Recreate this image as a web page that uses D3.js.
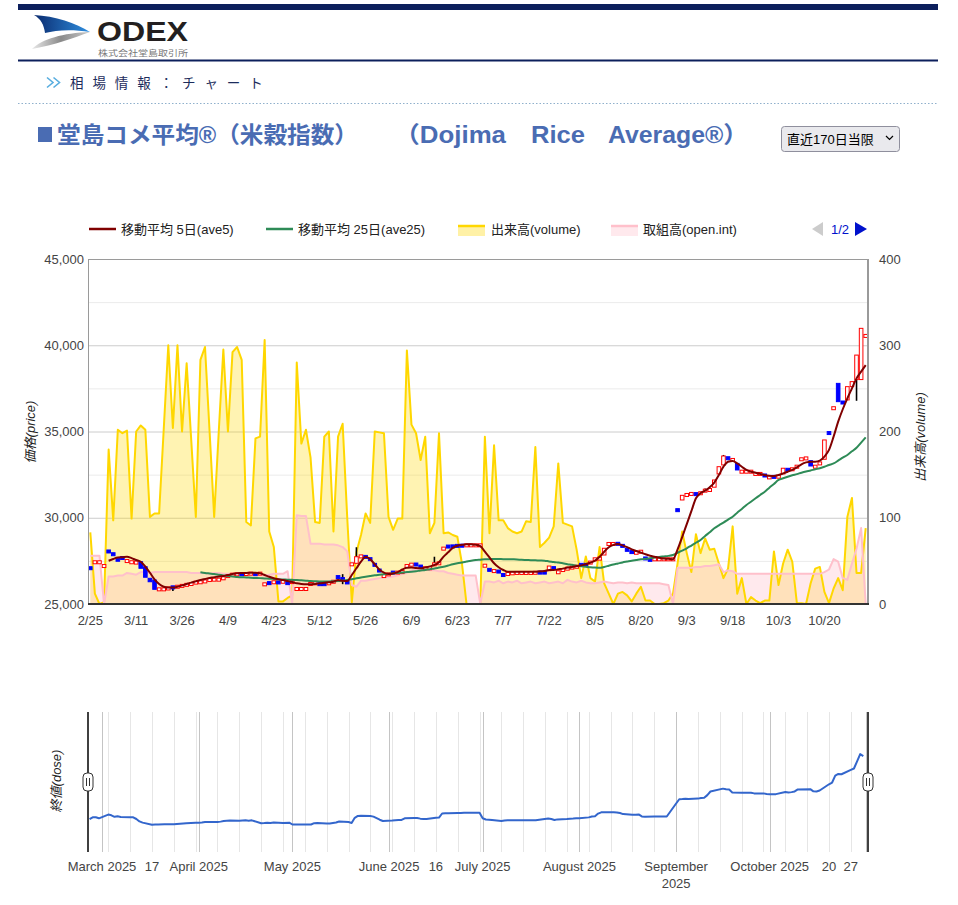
<!DOCTYPE html>
<html><head><meta charset="utf-8">
<script src="https://cdn.jsdelivr.net/npm/d3@7"></script>
<style>
body{margin:0;background:#fff}
svg{display:block}
text{font-family:"Liberation Sans",Arial,"Noto Sans CJK JP",sans-serif}
</style>
</head><body>
<svg id="c" width="958" height="905"></svg>
<script>
// ---------- DATA ----------
const dates = ("2/25 2/26 2/27 2/28 " +
 "3/3 3/4 3/5 3/6 3/7 3/10 3/11 3/12 3/13 3/14 3/17 3/18 3/19 3/21 3/24 3/25 3/26 3/27 3/28 3/31 " +
 "4/1 4/2 4/3 4/4 4/7 4/8 4/9 4/10 4/11 4/14 4/15 4/16 4/17 4/18 4/21 4/22 4/23 4/24 4/25 4/28 4/30 " +
 "5/1 5/2 5/7 5/8 5/9 5/12 5/13 5/14 5/15 5/16 5/19 5/20 5/21 5/22 5/23 5/26 5/27 5/28 5/29 5/30 " +
 "6/2 6/3 6/4 6/5 6/6 6/9 6/10 6/11 6/12 6/13 6/16 6/17 6/18 6/19 6/20 6/23 6/24 6/25 6/26 6/27 6/30 " +
 "7/1 7/2 7/3 7/4 7/7 7/8 7/9 7/10 7/11 7/14 7/15 7/16 7/17 7/18 7/22 7/23 7/24 7/25 7/28 7/29 7/30 7/31 " +
 "8/1 8/4 8/5 8/6 8/7 8/8 8/12 8/13 8/14 8/15 8/18 8/19 8/20 8/21 8/22 8/25 8/26 8/27 8/28 8/29 " +
 "9/1 9/2 9/3 9/4 9/5 9/8 9/9 9/10 9/11 9/12 9/16 9/17 9/18 9/19 9/22 9/24 9/25 9/26 9/29 9/30 " +
 "10/1 10/2 10/3 10/6 10/7 10/8 10/9 10/10 10/14 10/15 10/16 10/17 10/20 10/21 10/22 10/23 10/24 10/27 10/28 10/29 10/30 10/31").split(" ");

const xTickLabels = ["2/25","3/11","3/26","4/9","4/23","5/12","5/26","6/9","6/23","7/7","7/22","8/5","8/20","9/3","9/18","10/3","10/20"];
const priceTicks = [25000,30000,35000,40000,45000];
const volTicks = [0,100,200,300,400];

const openP = [27100,27400,27400,27180,28070,27910,27590,27690,27470,27400,
 27380,27450,27160,26490,26390,25830,25830,25880,25990,25980,
 26030,26090,26140,26220,26240,26290,26370,26390,26390,26470,
 26600,26680,26700,26750,26720,26740,26750,26740,26120,26230,
 26240,26270,26270,26230,26250,25850,25850,25850,26140,26180,
 26170,26170,26180,26270,26580,26470,26270,27280,27360,27740,
 27750,27620,27290,26960,26600,26700,26840,26800,26830,27180,
 27260,27310,27190,27050,27050,27280,27340,28170,28350,28360,
 28390,28400,28380,28380,28380,28380,27200,27000,26890,26900,
 26700,26720,26760,26780,26780,26780,26780,26790,26840,26840,
 26930,27100,26820,26950,27030,27090,27140,27290,27290,27380,
 27570,27610,27840,28460,28460,28510,28390,28160,28030,27950,
 28010,27660,27580,27570,27570,27570,27570,27570,30480,31030,
 31300,31360,31390,31400,31550,31590,31770,32540,33060,33470,
 33330,33150,32650,32650,32650,32520,32520,32470,32320,32390,
 32360,32540,32800,32790,32940,33370,33420,33310,32940,33130,
 33390,34930,36330,37790,36700,36830,37600,38010,38010,40520];

const closeP = [27050,27440,27440,27220,28020,27860,27540,27640,27510,27440,
 27420,27070,26550,26290,25850,25870,25870,25920,25940,26020,
 26070,26130,26180,26260,26280,26330,26410,26430,26430,26510,
 26640,26720,26740,26710,26760,26780,26710,26780,26160,26190,
 26280,26230,26310,26190,26290,25890,25890,25890,26180,26220,
 26130,26130,26220,26310,26540,26420,26230,27320,27740,27780,
 27710,27580,27250,26920,26640,26740,26800,26840,26870,27220,
 27300,27270,27150,27090,27090,27320,27380,28250,28310,28320,
 28350,28360,28420,28420,28420,28420,27240,26960,26930,26860,
 26660,26760,26800,26820,26820,26820,26820,26830,26800,26800,
 27200,27060,26860,26990,27070,27130,27180,27250,27250,27420,
 27610,27650,28230,28500,28500,28470,28350,28120,27990,27990,
 28050,27620,27540,27610,27610,27610,27610,27610,30400,31300,
 31340,31400,31350,31440,31590,31630,32190,32960,33580,33430,
 33370,32770,32690,32690,32690,32560,32560,32430,32360,32350,
 32400,32870,32760,32830,32980,33410,33460,33000,32980,33170,
 34510,34890,36370,36730,36660,37600,37890,39430,40980,40560];

// [index, low, high] where the wick shows outside the body
const wicks = [[18,25760,25990],[38,26050,26160],[55,26150,26730],[58,27360,28290],
 [75,27280,27740],[134,31550,31700],[138,33060,33640],[167,36780,39430]];

const ave5 = [null,null,null,null,27510,27610,27690,27710,27740,27660,
 27550,27450,27160,26810,26430,26160,26000,25950,25950,26000,
 26080,26160,26240,26310,26390,26450,26510,26550,26600,26620,
 26680,26740,26780,26800,26800,26810,26810,26780,26680,26580,
 26490,26430,26390,26330,26270,26200,26160,26140,26140,26160,
 26200,26230,26260,26290,26390,26350,26330,26680,27070,27450,
 27740,27600,27300,27000,26820,26740,26770,26850,27000,27100,
 27110,27080,27070,27120,27180,27260,27420,27750,28000,28250,
 28380,28430,28460,28460,28440,28360,28030,27700,27360,27130,
 26970,26870,26870,26870,26870,26870,26870,26870,26900,26910,
 26970,26970,27010,27050,27110,27150,27200,27240,27300,27400,
 27510,27740,28030,28290,28430,28480,28400,28300,28170,28070,
 27980,27880,27800,27740,27680,27640,27620,27600,28170,28880,
 29630,30380,31130,31420,31570,31770,32040,32480,32960,33250,
 33290,33150,32960,32770,32670,32610,32540,32480,32440,32420,
 32480,32570,32670,32770,32920,33100,33210,33250,33250,33310,
 33540,33930,34700,35570,36290,36920,37500,38080,38470,38850];

const ave25 = [null,null,null,null,null,null,null,null,null,null,
 null,null,null,null,null,null,null,null,null,null,
 null,null,null,null,26840,26800,26770,26740,26700,26660,
 26620,26600,26570,26550,26540,26520,26510,26500,26480,26470,
 26450,26430,26420,26410,26400,26390,26370,26350,26330,26320,
 26310,26310,26310,26320,26330,26360,26390,26430,26490,26540,
 26580,26620,26660,26690,26720,26750,26780,26800,26830,26850,
 26870,26900,26940,26970,27020,27060,27110,27160,27230,27300,
 27360,27410,27460,27510,27550,27570,27590,27600,27610,27610,
 27600,27600,27590,27580,27560,27550,27540,27530,27520,27510,
 27470,27440,27400,27360,27310,27270,27220,27190,27160,27130,
 27110,27100,27150,27220,27290,27350,27410,27460,27510,27550,
 27590,27620,27650,27690,27730,27760,27790,27840,27970,28100,
 28230,28390,28550,28710,28940,29160,29390,29560,29720,29890,
 30060,30290,30510,30740,30930,31130,31320,31510,31740,31960,
 32190,32290,32380,32460,32530,32610,32680,32740,32810,32870,
 32960,33060,33150,33310,33480,33640,33850,34060,34360,34660];

const volume = [83,12,0,2,179,97,202,198,201,99,
 200,207,202,101,105,105,202,300,204,300,
 200,279,190,101,283,298,200,101,200,295,
 200,292,298,283,95,91,192,194,306,84,
 66,3,3,7,10,280,186,202,170,95,
 94,194,200,84,194,209,100,2,60,80,
 105,94,200,199,198,101,86,99,99,294,
 208,198,167,194,82,94,198,82,83,80,
 78,47,0,0,0,0,194,82,184,97,
 97,88,84,82,84,96,95,182,66,71,
 77,90,163,94,92,90,63,30,55,30,
 26,66,24,12,0,12,14,10,3,12,
 20,4,4,0,0,1,4,12,47,84,
 59,37,81,59,76,63,64,47,30,41,
 90,12,30,0,8,4,1,4,4,61,
 22,47,63,49,1,1,0,24,41,43,
 14,1,18,30,16,101,123,36,36,88];

const openInt = [56,56,56,0,32,32,33,33,36,35,
 34,37,37,36,37,37,37,37,37,37,
 37,37,36,36,36,36,35,36,36,35,
 35,35,35,35,35,34,34,34,33,34,
 35,35,35,38,0,103,102,102,70,70,
 70,69,69,69,68,66,61,22,20,27,
 27,28,29,30,31,31,32,33,35,36,
 39,41,41,40,39,39,38,38,36,35,
 34,33,33,33,33,0,26,26,25,27,
 24,26,25,27,24,25,26,24,25,26,
 24,25,26,24,28,26,25,27,25,24,
 24,25,26,25,24,25,25,24,25,24,
 24,24,24,24,24,23,22,0,42,42,
 42,42,43,43,44,44,45,46,37,39,
 38,35,35,35,35,35,35,35,35,35,
 35,35,35,35,35,35,35,35,35,35,
 37,40,52,49,30,28,47,64,88,0];

const navTicks = [["2025-03-01",["March 2025"]],["2025-03-17",["17"]],["2025-04-01",["April 2025"]],
 ["2025-05-01",["May 2025"]],["2025-06-01",["June 2025"]],["2025-06-16",["16"]],["2025-07-01",["July 2025"]],
 ["2025-08-01",["August 2025"]],["2025-09-01",["September","2025"]],["2025-10-01",["October 2025"]],
 ["2025-10-20",["20"]],["2025-10-27",["27"]]];

const legendItems = [
 {label:"移動平均 5日(ave5)", color:"#800000", kind:"line", x:89, tx:121},
 {label:"移動平均 25日(ave25)", color:"#2e8b57", kind:"line", x:266, tx:298},
 {label:"出来高(volume)", color:"#ffd700", kind:"area", x:458, tx:491},
 {label:"取組高(open.int)", color:"#ffc0cb", kind:"area", x:611, tx:643}];

// ---------- DRAW ----------
const svg = d3.select("#c");
const FONT = '"Liberation Sans",Arial,"Noto Sans CJK JP",sans-serif';

// Header
const defs = svg.append("defs");
const gb = defs.append("linearGradient").attr("id","gBlue").attr("x1","0").attr("x2","1");
gb.append("stop").attr("offset","0").attr("stop-color","#0a2a6e");
gb.append("stop").attr("offset","1").attr("stop-color","#2f8fe0");
const gg = defs.append("linearGradient").attr("id","gGray").attr("x1","0").attr("x2","1");
gg.append("stop").attr("offset","0").attr("stop-color","#e8e8e8");
gg.append("stop").attr("offset","0.5").attr("stop-color","#8a8a8a");
gg.append("stop").attr("offset","1").attr("stop-color","#c9c9c9");

svg.append("rect").attr("x",18).attr("y",4).attr("width",920).attr("height",6).attr("fill","#0c1f5c");
svg.append("path").attr("d","M34,15 C55,16 76,23 90,32 C72,29 56,30 45,33 C44,25 41,19 34,15 Z").attr("fill","url(#gBlue)");
svg.append("path").attr("d","M32,49 C42,39 63,33 90,32 C73,38 55,45 32,49 Z").attr("fill","url(#gGray)");
svg.append("text").attr("x",97).attr("y",41).attr("font-size",28).attr("font-weight","bold")
  .attr("fill","#231f20").attr("textLength",91).attr("lengthAdjust","spacingAndGlyphs").text("ODEX");
svg.append("text").attr("x",98).attr("y",55.5).attr("font-size",8.5).attr("fill","#777")
  .attr("textLength",90).attr("lengthAdjust","spacingAndGlyphs").text("株式会社堂島取引所");
svg.append("rect").attr("x",18).attr("y",59.5).attr("width",920).attr("height",2).attr("fill","#0c1f5c");

svg.append("path").attr("d","M47,77.5 L53,82.5 L47,87.5 M53.5,77.5 L59.5,82.5 L53.5,87.5")
  .attr("fill","none").attr("stroke","#58addf").attr("stroke-width",1.6);
const crumb = "相場情報：チャート".split("");
svg.append("g").selectAll("text").data(crumb).join("text")
  .attr("x",(d,i)=>70+i*22.4).attr("y",87.5).attr("font-size",13.5).attr("fill","#1c2c5c").text(d=>d);
svg.append("line").attr("x1",18).attr("x2",938).attr("y1",103.5).attr("y2",103.5)
  .attr("stroke","#8fb0cc").attr("stroke-width",1.2).attr("stroke-dasharray","1.5,2");

// Title
const TC = "#4a6cb3";
svg.append("rect").attr("x",38).attr("y",127).attr("width",14).attr("height",15).attr("fill",TC);
[["堂島コメ平均®（米穀指数）",57,301],["（Dojima",394,112],["Rice",531,54],["Average®）",608,140]].forEach(s=>{
  svg.append("text").attr("x",s[1]).attr("y",143).attr("font-size",23).attr("font-weight","bold")
    .attr("fill",TC).attr("textLength",s[2]).attr("lengthAdjust","spacingAndGlyphs").text(s[0]);
});
// select box
svg.append("rect").attr("x",781.5).attr("y",126.5).attr("width",118).attr("height",25).attr("rx",3)
  .attr("fill","#e9e9ed").attr("stroke","#8f8f9d");
svg.append("text").attr("x",787).attr("y",143.5).attr("font-size",13).attr("fill","#000").text("直近170日当限");
svg.append("path").attr("d","M886,136 L889.5,139.5 L893,136").attr("fill","none").attr("stroke","#000").attr("stroke-width",1.2);

// Legend
const lg = svg.append("g");
legendItems.forEach(it=>{
  if(it.kind==="line"){
    lg.append("line").attr("x1",it.x).attr("x2",it.x+27).attr("y1",229).attr("y2",229)
      .attr("stroke",it.color).attr("stroke-width",2.5);
  } else {
    lg.append("rect").attr("x",it.x).attr("y",226).attr("width",27).attr("height",10)
      .attr("fill",it.color).attr("fill-opacity",0.35);
    lg.append("line").attr("x1",it.x).attr("x2",it.x+27).attr("y1",226).attr("y2",226)
      .attr("stroke",it.color).attr("stroke-width",2.5);
  }
  lg.append("text").attr("x",it.tx).attr("y",233.5).attr("font-size",13).attr("fill","#222").text(it.label);
});
lg.append("path").attr("d","M823,222 L812,229 L823,236 Z").attr("fill","#cccccc");
lg.append("text").attr("x",831).attr("y",233.5).attr("font-size",13).attr("fill","#0011cc").text("1/2");
lg.append("path").attr("d","M855,222 L867,229 L855,236 Z").attr("fill","#0011cc");

// Main chart scales
const L = 88, R = 868, T = 259, B = 604;
const x = d3.scaleBand().domain(dates).range([L,R]);
const xc = d => x(d) + x.bandwidth()/2;
const yP = d3.scaleLinear().domain([25000,45000]).range([B,T]);
const yV = d3.scaleLinear().domain([0,400]).range([B,T]);

const rows = dates.map((d,i)=>({d,i,o:openP[i],c:closeP[i],a5:ave5[i],a25:ave25[i],v:volume[i],oi:openInt[i]}));

// gridlines
const gridVals = d3.range(25000,45001,2500);
svg.append("g").selectAll("line").data(gridVals).join("line")
  .attr("x1",L).attr("x2",R).attr("y1",v=>yP(v)+0.5).attr("y2",v=>yP(v)+0.5)
  .attr("stroke",v=>v%5000===0?"#cccccc":"#ebebeb").attr("stroke-width",1);

// areas
const plot = svg.append("g");
plot.append("path").datum(rows).attr("fill","#ffd700").attr("fill-opacity",0.3)
  .attr("d",d3.area().x(r=>xc(r.d)).y0(yV(0)).y1(r=>yV(r.v)));
plot.append("path").datum(rows).attr("fill","#ffc0cb").attr("fill-opacity",0.35)
  .attr("d",d3.area().x(r=>xc(r.d)).y0(yV(0)).y1(r=>yV(r.oi)));
plot.append("path").datum(rows).attr("fill","none").attr("stroke","#ffd700").attr("stroke-width",2)
  .attr("stroke-linejoin","round").attr("d",d3.line().x(r=>xc(r.d)).y(r=>yV(r.v)));
plot.append("path").datum(rows).attr("fill","none").attr("stroke","#ffc0cb").attr("stroke-width",2)
  .attr("stroke-linejoin","round").attr("d",d3.line().x(r=>xc(r.d)).y(r=>yV(r.oi)));

// candles
plot.append("g").selectAll("line").data(wicks).join("line")
  .attr("x1",w=>xc(dates[w[0]])).attr("x2",w=>xc(dates[w[0]]))
  .attr("y1",w=>yP(w[1])).attr("y2",w=>yP(w[2])).attr("stroke","#000").attr("stroke-width",1.6);
const bw = 3.6;
plot.append("g").selectAll("rect").data(rows).join("rect")
  .attr("x",r=>xc(r.d)-bw/2)
  .attr("width",bw)
  .attr("y",r=>{const a=yP(Math.max(r.o,r.c)), b=yP(Math.min(r.o,r.c)); const h=b-a; return h<3?(a+b)/2-1.5:a;})
  .attr("height",r=>Math.max(3,Math.abs(yP(r.o)-yP(r.c))))
  .attr("fill",r=>r.c>=r.o?"#ffffff":"#0000ff")
  .attr("stroke",r=>r.c>=r.o?"#ff0000":"#0000ff").attr("stroke-width",1);

// moving averages
plot.append("path").datum(rows).attr("fill","none").attr("stroke","#2e8b57").attr("stroke-width",2)
  .attr("d",d3.line().defined(r=>r.a25!=null).curve(d3.curveMonotoneX).x(r=>xc(r.d)).y(r=>yP(r.a25)));
plot.append("path").datum(rows).attr("fill","none").attr("stroke","#800000").attr("stroke-width",2)
  .attr("d",d3.line().defined(r=>r.a5!=null).curve(d3.curveMonotoneX).x(r=>xc(r.d)).y(r=>yP(r.a5)));

// frame
svg.append("line").attr("x1",L).attr("x2",R).attr("y1",T+0.5).attr("y2",T+0.5).attr("stroke","#9a9a9a");
svg.append("line").attr("x1",L+0.5).attr("x2",L+0.5).attr("y1",T).attr("y2",B).attr("stroke","#9a9a9a");
svg.append("line").attr("x1",R).attr("x2",R).attr("y1",T).attr("y2",B).attr("stroke","#9a9a9a").attr("stroke-width",2);
svg.append("line").attr("x1",L).attr("x2",R+1).attr("y1",B).attr("y2",B).attr("stroke","#333").attr("stroke-width",2);

// axes
function styleAxis(g){
  g.select(".domain").remove();
  g.selectAll("line").remove();
  g.selectAll("text").attr("font-size",13).attr("fill","#444").attr("font-family",FONT);
}
svg.append("g").attr("transform",`translate(${L},0)`)
  .call(d3.axisLeft(yP).tickValues(priceTicks).tickSize(0).tickPadding(4).tickFormat(d3.format(",")))
  .call(styleAxis);
svg.append("g").attr("transform",`translate(${R},0)`)
  .call(d3.axisRight(yV).tickValues(volTicks).tickSize(0).tickPadding(11))
  .call(styleAxis);
svg.append("g").attr("transform",`translate(0,${B})`)
  .call(d3.axisBottom(x).tickValues(xTickLabels).tickSize(0).tickPadding(12))
  .call(styleAxis);

svg.append("text").attr("transform","translate(35,432) rotate(-90)").attr("text-anchor","middle")
  .attr("font-size",13).attr("font-style","italic").attr("fill","#222").text("価格(price)");
svg.append("text").attr("transform","translate(925,437) rotate(-90)").attr("text-anchor","middle")
  .attr("font-size",13).attr("font-style","italic").attr("fill","#222").text("出来高(volume)");

// ---------- Navigator ----------
const NT = 712, NB = 852;
const parseMD = s => { const p = s.split("/"); return new Date(2025, +p[0]-1, +p[1]); };
const xT = d3.scaleTime().domain([new Date(2025,1,24,12), new Date(2025,10,1,12)]).range([L,R]);
const yN = d3.scaleLinear().domain([20000,50000]).range([NB,NT]);
const nav = svg.append("g");
nav.append("g").selectAll("line").data(d3.timeMonday.range(xT.domain()[0], xT.domain()[1])).join("line")
  .attr("x1",d=>Math.round(xT(d))+0.5).attr("x2",d=>Math.round(xT(d))+0.5).attr("y1",NT).attr("y2",NB)
  .attr("stroke","#e6e6e6");
nav.append("g").selectAll("line").data(d3.timeMonth.range(xT.domain()[0], xT.domain()[1])).join("line")
  .attr("x1",d=>Math.round(xT(d))+0.5).attr("x2",d=>Math.round(xT(d))+0.5).attr("y1",NT).attr("y2",NB)
  .attr("stroke","#c4c4c4");
nav.append("path").datum(rows).attr("fill","none").attr("stroke","#3366cc").attr("stroke-width",2)
  .attr("stroke-linejoin","round")
  .attr("d",d3.line().x(r=>xT(parseMD(r.d))).y(r=>yN(r.c)));
navTicks.forEach(t=>{
  const p = t[0].split("-");
  const xx = xT(new Date(+p[0], +p[1]-1, +p[2]));
  const tx = nav.append("text").attr("x",xx).attr("y",871).attr("text-anchor","middle")
    .attr("font-size",13).attr("fill","#444");
  t[1].forEach((s,k)=>tx.append("tspan").attr("x",xx).attr("dy",k?17:0).text(s));
});
[L,R].forEach(hx=>{
  nav.append("line").attr("x1",hx).attr("x2",hx).attr("y1",NT).attr("y2",NB).attr("stroke","#000").attr("stroke-width",1.5);
  nav.append("rect").attr("x",hx-5).attr("y",773).attr("width",10).attr("height",18).attr("rx",4)
    .attr("fill","#fff").attr("stroke","#333");
  nav.append("line").attr("x1",hx-1.5).attr("x2",hx-1.5).attr("y1",778).attr("y2",786).attr("stroke","#333");
  nav.append("line").attr("x1",hx+1.5).attr("x2",hx+1.5).attr("y1",778).attr("y2",786).attr("stroke","#333");
});
svg.append("text").attr("transform","translate(61,781) rotate(-90)").attr("text-anchor","middle")
  .attr("font-size",13).attr("font-style","italic").attr("fill","#222").text("終値(dose)");
</script>
</body></html>
